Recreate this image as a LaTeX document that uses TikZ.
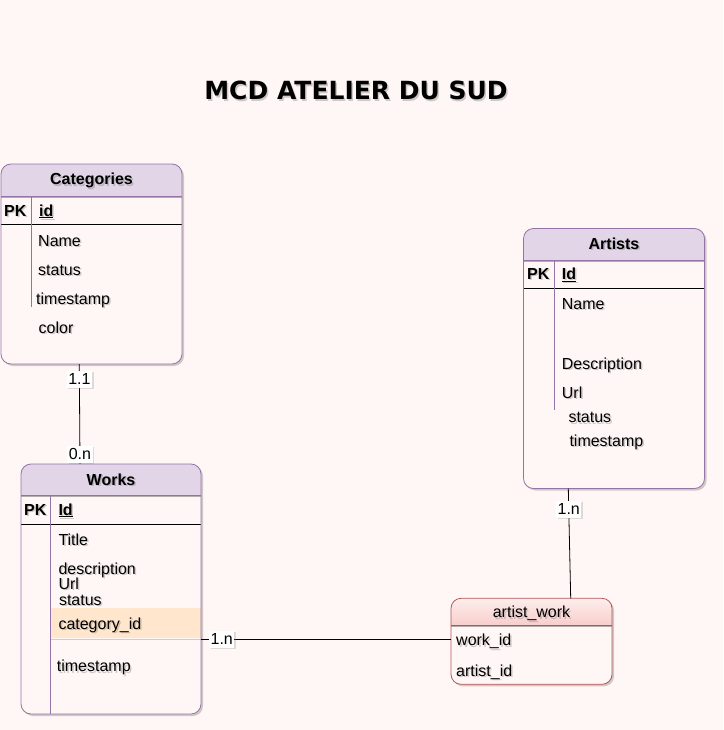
\documentclass[tikz,border=0pt]{standalone}
\usepackage{fontspec}
\setmainfont{Liberation Sans}
\newfontfamily\titlefont{DejaVu Sans}
\usetikzlibrary{shadows}
\definecolor{bg}{HTML}{FFF7F5}
\definecolor{pstroke}{HTML}{9673A6}
\definecolor{pfill}{HTML}{E1D5E7}
\definecolor{rstroke}{HTML}{B85450}
\definecolor{rfill}{HTML}{F8CECC}
\definecolor{ofill}{HTML}{FFE6CC}
\newcommand\mytxt[4]{%
  \node[ts,#3,xshift=1.5pt,yshift=-1.5pt] (#1s) at (#2) {#4};
  \node[#3] (#1) at (#2) {#4};}
\begin{document}
\begin{tikzpicture}[x=1pt,y=-1pt,
  every node/.style={font=\fontsize{16}{18}\selectfont},
  tbl/.style={fill=bg, draw=none, inner sep=0pt, outer sep=0pt, rounded corners=10pt, anchor=north west,
    drop shadow={shadow xshift=2pt,shadow yshift=-2pt,opacity=0.35,fill=black!55}},
  border/.style={draw=pstroke, line width=0.8pt, rounded corners=10pt},
  sep/.style={draw=pstroke, line width=0.8pt},
  sepsh/.style={draw=black!60, line width=1.2pt, opacity=0.5},
  pkline/.style={draw=black, line width=0.9pt},
  vline/.style={draw=pstroke, line width=0.8pt},
  ts/.style={text=black!55, opacity=0.35},
  row/.style={anchor=base west, inner sep=0pt},
  hdr/.style={anchor=base, inner sep=0pt, font=\fontsize{16}{18}\selectfont\bfseries},
  bold/.style={anchor=base west, inner sep=0pt, font=\fontsize{16}{18}\selectfont\bfseries},
  conn/.style={draw=black, line width=0.8pt},
  lbl/.style={fill=white, inner xsep=1.5pt, inner ysep=2.5pt, text height=11.5pt, text depth=0.5pt,
    drop shadow={shadow xshift=1.5pt,shadow yshift=-1.5pt,opacity=0.25,fill=black!50}}
]
\useasboundingbox[fill=bg] (0,0) rectangle (723,730);

% ---------- Title
\mytxt{title}{356,100}{anchor=base, inner sep=0pt, font=\titlefont\fontsize{25}{28}\selectfont\bfseries}{MCD ATELIER DU SUD}

% ---------- Categories
\node[tbl, minimum width=181pt, minimum height=200pt] (cat) at (1,164) {};
\begin{scope}
  \clip[rounded corners=10pt] (cat.north west) rectangle (cat.south east);
  \fill[pfill] (cat.north west) rectangle ([yshift=-32pt]cat.north east);
\end{scope}
\draw[sepsh] (1,197.6) -- (182,197.6);
\draw[sep] (1,196) -- (182,196);
\draw[pkline] (1,224) -- (182,224);
\draw[vline] (31.7,196) -- (31.7,306.5);
\draw[border] (cat.north west) rectangle (cat.south east);
\mytxt{catH}{91.5,185}{hdr}{Categories}
\mytxt{catPK}{4,216}{bold}{PK}
\mytxt{catId}{39,216}{bold}{\underline{id}}
\mytxt{catName}{38,246}{row}{Name}
\mytxt{catStatus}{38,275}{row}{status}
\mytxt{catTs}{36,304}{row}{timestamp}
\mytxt{catColor}{38.5,333}{row}{color}

% ---------- Works
\node[tbl, minimum width=180pt, minimum height=250pt] (works) at (21,464) {};
\begin{scope}
  \clip[rounded corners=10pt] (works.north west) rectangle (works.south east);
  \fill[pfill] (works.north west) rectangle ([yshift=-31pt]works.north east);
  \fill[ofill] (50.7,608.3) rectangle (201,638.3);
\end{scope}
\draw[black!50, opacity=0.35, line width=1.2pt] (51,639.5) -- (201,639.5);
\draw[sepsh] (21,496.6) -- (201,496.6);
\draw[sep] (21,495) -- (201,495);
\draw[pkline] (21,524.3) -- (201,524.3);
\draw[vline] (50.7,495) -- (50.7,714);
\draw[border] (works.north west) rectangle (works.south east);
\mytxt{wH}{111,485}{hdr}{Works}
\mytxt{wPK}{24,515}{bold}{PK}
\mytxt{wId}{58.3,515}{bold}{\underline{Id}}
\mytxt{wTitle}{58.3,545}{row}{Title}
\mytxt{wDesc}{58.3,574.3}{row}{description}
\mytxt{wUrl}{58.3,589.3}{row}{Url}
\mytxt{wStatus}{58.8,605}{row}{status}
\mytxt{wCat}{58.3,629}{row}{category\_id}
\mytxt{wTs}{56.7,671.5}{row}{timestamp}

% ---------- Artists
\node[tbl, minimum width=181pt, minimum height=260pt] (art) at (523.5,228.5) {};
\begin{scope}
  \clip[rounded corners=10pt] (art.north west) rectangle (art.south east);
  \fill[pfill] (art.north west) rectangle ([yshift=-31.5pt]art.north east);
\end{scope}
\draw[sepsh] (523.5,261.6) -- (704.5,261.6);
\draw[sep] (523.5,260) -- (704.5,260);
\draw[pkline] (523.5,288.3) -- (704.5,288.3);
\draw[vline] (554,260) -- (554,410);
\draw[border] (art.north west) rectangle (art.south east);
\mytxt{aH}{614,249.3}{hdr}{Artists}
\mytxt{aPK}{527,279.3}{bold}{PK}
\mytxt{aId}{561.7,279.3}{bold}{\underline{Id}}
\mytxt{aName}{561.7,309.3}{row}{Name}
\mytxt{aDesc}{561.7,369.3}{row}{Description}
\mytxt{aUrl}{561.7,398.3}{row}{Url}
\mytxt{aStatus}{568.3,422.7}{row}{status}
\mytxt{aTs}{569.3,446}{row}{timestamp}

% ---------- artist_work
\node[tbl, minimum width=161pt, minimum height=86pt] (aw) at (451,598.3) {};
\begin{scope}
  \clip[rounded corners=10pt] (aw.north west) rectangle (aw.south east);
  \shade[top color=rfill!35!white, bottom color=rfill] (aw.north west) rectangle ([yshift=-27pt]aw.north east);
\end{scope}
\draw[sepsh] (451,626.6) -- (612,626.6);
\draw[draw=rstroke, line width=0.8pt] (451,625.3) -- (612,625.3);
\draw[draw=rstroke, line width=0.8pt, rounded corners=10pt] (aw.north west) rectangle (aw.south east);
\mytxt{awH}{531.5,617.7}{anchor=base, inner sep=0pt}{artist\_work}
\mytxt{awWork}{456,645.7}{row}{work\_id}
\mytxt{awArt}{456,676}{row}{artist\_id}

% ---------- Connectors
\draw[conn] ([xshift=-12.2pt]cat.south) -- ([xshift=-31pt]works.north)
  node[lbl, pos=0.15] (l11) {1.1}
  node[lbl, pos=0.9] (l0n) {0.n};
\draw[conn] ([xshift=-45.7pt]art.south) -- ([xshift=39.2pt]aw.north)
  node[lbl, pos=0.19] (l1na) {1.n};
\draw[conn] ([yshift=-50.3pt]works.east) -- ([yshift=-50.3pt]works.east -| aw.west)
  node[lbl, pos=0.083] (l1nw) {1.n};
\end{tikzpicture}
\end{document}
